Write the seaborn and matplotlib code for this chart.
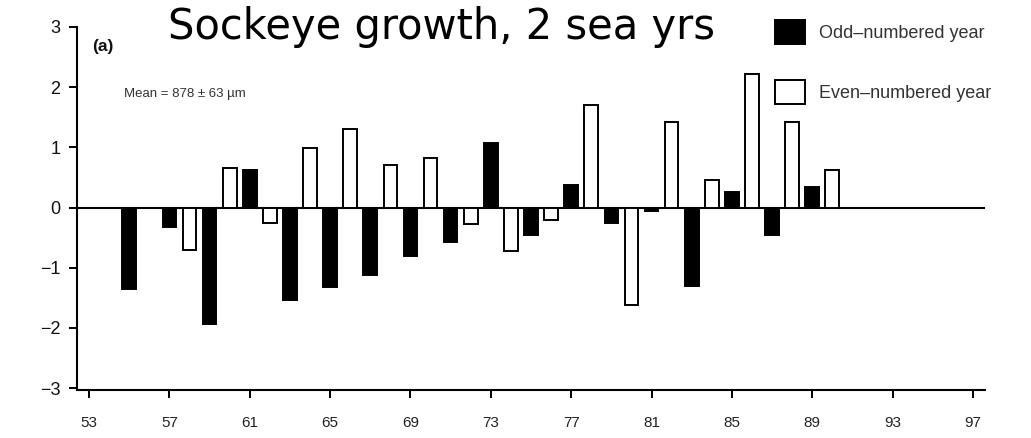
import matplotlib
matplotlib.use("Agg")
import matplotlib.pyplot as plt
import seaborn as sns
import pandas as pd
from matplotlib.patches import Patch

# Standardized sockeye growth anomaly by brood year (two sea years)
years = [55, 57, 58, 59, 60, 61, 62, 63, 64, 65, 66, 67, 68, 69, 70, 71, 72,
         73, 74, 75, 76, 77, 78, 79, 80, 81, 82, 83, 84, 85, 86, 87, 88, 89, 90]
values = [-1.36, -0.33, -0.71, -1.93, 0.66, 0.63, -0.25, -1.53, 0.99, -1.32,
          1.31, -1.12, 0.71, -0.80, 0.82, -0.57, -0.27, 1.07, -0.72, -0.46,
          -0.21, 0.38, 1.70, -0.26, -1.62, -0.05, 1.42, -1.30, 0.46, 0.26,
          2.22, -0.46, 1.42, 0.34, 0.62]
group_labels = ["Odd\u2013numbered year", "Even\u2013numbered year"]
x_ticks = [53, 57, 61, 65, 69, 73, 77, 81, 85, 89, 93, 97]
y_ticks = [-3, -2, -1, 0, 1, 2, 3]
title = "Sockeye growth, 2 sea yrs"
panel_label = "(a)"
mean_note = "Mean = 878 \u00b1 63 \u00b5m"

df = pd.DataFrame({
    "year": years,
    "value": values,
    "group": [group_labels[0] if y % 2 else group_labels[1] for y in years],
})

sns.set_theme(style="ticks")
plt.rcParams["font.family"] = ["Liberation Sans", "DejaVu Sans"]

fig = plt.figure(figsize=(10.31, 4.38), dpi=100)
W, H = 1031, 438
ax = fig.add_axes([77 / W, 48 / H, (985 - 77) / W, (390 - 27) / H])

sns.barplot(data=df, x="year", y="value", hue="group", native_scale=True,
            hue_order=group_labels,
            palette={group_labels[0]: "black", group_labels[1]: "white"},
            edgecolor="black", linewidth=1.4, width=0.68, dodge=False,
            legend=False, ax=ax, zorder=3)

ax.axhline(0, color="black", linewidth=1.5, zorder=2)

ax.set_xlim(52.4, 97.6)
ax.set_ylim(-3.03, 3.0)
ax.set_xticks(x_ticks)
ax.set_xticklabels([str(t) for t in x_ticks], fontsize=11, color="#222222")
ax.set_yticks(y_ticks)
ax.set_yticklabels(["\u2212%d" % -t if t < 0 else str(t) for t in y_ticks],
                   fontsize=13, color="#111111")
ax.tick_params(axis="both", direction="out", length=6, width=1.4, color="black")
ax.tick_params(axis="x", pad=13)
ax.tick_params(axis="y", pad=6)
ax.set_xlabel("")
ax.set_ylabel("")
for side in ("top", "right"):
    ax.spines[side].set_visible(False)
for side in ("left", "bottom"):
    ax.spines[side].set_linewidth(1.5)
    ax.spines[side].set_color("black")

fig.text(442 / W, 1 - 39 / H, title, fontsize=30, family="DejaVu Sans",
         ha="center", va="baseline", color="black")
fig.text(92 / W, 1 - 47 / H, panel_label, fontsize=12.5, fontweight="bold",
         ha="left", va="center", color="#111111")
fig.text(124 / W, 1 - 94 / H, mean_note, fontsize=9.5, ha="left", va="center",
         color="#333333")

# Legend built from the same fill colours as the bars
handles = [Patch(facecolor="black", edgecolor="black", linewidth=1.4),
           Patch(facecolor="white", edgecolor="black", linewidth=1.4)]
fig.legend(handles, group_labels, loc="upper left",
           bbox_to_anchor=(775 / W, 1 - 20 / H), frameon=False,
           fontsize=13, handlelength=1.65, handleheight=1.65,
           labelspacing=2.0, handletextpad=0.8, borderpad=0,
           borderaxespad=0, labelcolor="#333333")

fig.savefig("out.png", dpi=100)
